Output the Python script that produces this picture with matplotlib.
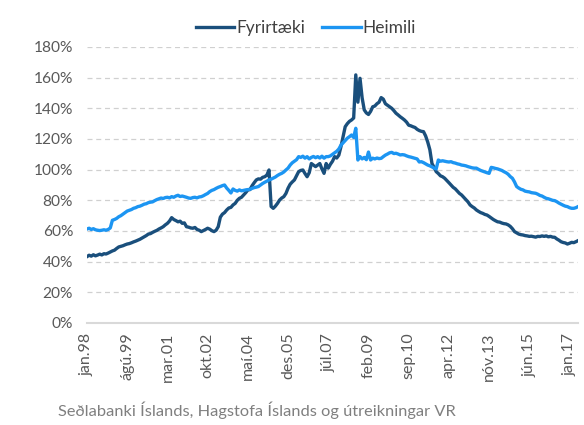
import numpy as np
import matplotlib
matplotlib.use("Agg")
import matplotlib.pyplot as plt

plt.rcParams['font.family'] = ['Lato', 'DejaVu Sans']

# monthly values, jan.98 - maí.17 (% )
fyrirtaeki = [
    43.3, 44.2, 43.6, 44.5, 43.8, 44.3, 44.9, 44.4, 45.2, 45.0, 45.6, 46.3,   # 1998
    47.0, 47.5, 48.6, 49.6, 50.0, 50.4, 51.0, 51.5, 51.8, 52.3, 52.9, 53.4,   # 1999
    54.0, 54.6, 55.4, 56.2, 57.0, 58.0, 58.3, 59.1, 59.8, 60.4, 61.3, 62.0,   # 2000
    62.8, 64.0, 65.0, 66.5, 68.7, 67.5, 66.8, 66.0, 66.4, 65.0, 65.3, 62.8,   # 2001
    62.5, 62.0, 61.8, 62.3, 61.0, 60.5, 59.6, 60.3, 61.0, 61.8, 61.2, 60.2,   # 2002
    59.6, 60.5, 62.8, 69.0, 71.0, 72.0, 73.7, 75.0, 75.4, 77.0, 78.0, 80.0,   # 2003
    81.3, 82.0, 83.5, 85.0, 86.8, 87.0, 89.5, 91.5, 93.3, 94.0, 93.8, 95.0,   # 2004
    95.4, 96.5, 99.8, 76.0, 74.8, 76.2, 78.0, 80.2, 81.5, 82.4, 84.5, 87.9,   # 2005
    90.5, 92.0, 93.3, 96.0, 98.7, 99.5, 99.8, 97.5, 95.4, 98.0, 104.0, 103.0, # 2006
    102.0, 103.0, 104.0, 100.5, 97.6, 104.0, 101.0, 103.5, 105.5, 108.5, 107.6, 109.5,  # 2007
    115.0, 121.5, 128.0, 130.0, 131.5, 132.4, 133.7, 161.8, 144.0, 159.6, 146.8, 139.0,  # 2008
    137.0, 136.0, 138.0, 141.0, 141.5, 143.0, 144.0, 147.0, 146.0, 143.0, 142.0, 141.0,  # 2009
    140.0, 138.5, 136.8, 135.7, 134.5, 133.5, 132.4, 131.0, 129.0, 128.6, 128.0, 127.5,  # 2010
    126.3, 125.5, 125.0, 124.8, 122.0, 118.0, 113.0, 104.0, 101.5, 98.7, 97.5, 96.0,     # 2011
    95.4, 94.4, 93.0, 91.5, 90.0, 88.5, 87.5, 86.0, 84.5, 83.5, 82.0, 80.5,   # 2012
    79.0, 77.0, 75.9, 75.0, 73.7, 72.8, 72.0, 71.5, 70.8, 70.4, 69.5, 68.5,   # 2013
    67.5, 66.7, 66.0, 65.8, 65.2, 64.8, 64.6, 64.0, 63.0, 61.5, 59.6, 58.8,   # 2014
    58.0, 57.6, 57.4, 57.0, 56.8, 56.5, 56.6, 56.3, 56.0, 56.5, 56.4, 56.8,   # 2015
    56.5, 56.8, 56.2, 56.5, 56.0, 55.9, 54.8, 54.0, 53.0, 52.5, 52.2, 51.5,   # 2016
    52.0, 52.6, 52.4, 53.0, 53.7,                                             # 2017
]

heimili = [
    61.3, 61.8, 61.0, 61.5, 60.8, 60.5, 60.3, 60.5, 60.8, 60.5, 61.0, 62.0,   # 1998
    67.0, 67.5, 68.2, 69.3, 70.0, 71.0, 72.0, 73.0, 73.5, 74.0, 74.8, 75.2,   # 1999
    75.9, 76.2, 76.8, 77.5, 77.8, 78.5, 78.8, 79.0, 79.8, 80.5, 81.0, 81.5,   # 2000
    81.2, 81.8, 82.0, 81.6, 82.4, 82.0, 82.8, 83.3, 82.5, 82.8, 82.4, 82.0,   # 2001
    81.5, 81.3, 81.8, 82.0, 81.6, 82.2, 82.4, 83.0, 83.8, 84.5, 85.7, 86.5,   # 2002
    87.0, 87.8, 88.5, 89.0, 89.6, 90.0, 88.0, 86.5, 84.8, 87.4, 86.5, 86.0,   # 2003
    86.8, 86.2, 86.5, 86.8, 87.0, 87.2, 87.8, 88.3, 88.6, 89.0, 90.0, 91.0,   # 2004
    91.8, 92.5, 93.3, 93.8, 94.5, 95.2, 96.2, 97.0, 97.6, 98.5, 99.8, 101.0,  # 2005
    103.0, 104.5, 105.5, 106.5, 108.5, 108.0, 108.8, 107.5, 108.5, 107.0, 108.0, 108.6,  # 2006
    107.8, 108.5, 107.6, 108.8, 107.5, 108.5, 108.5, 109.0, 110.0, 111.0, 112.0, 113.5,  # 2007
    116.0, 117.5, 119.0, 120.5, 121.5, 122.6, 121.0, 127.0, 106.3, 108.5, 107.0, 108.0,  # 2008
    106.5, 111.5, 106.3, 107.5, 107.0, 107.6, 107.2, 107.4, 108.5, 109.5, 110.2, 111.0,  # 2009
    111.3, 110.5, 110.7, 110.2, 109.6, 109.8, 109.6, 109.0, 108.5, 108.2, 107.8, 107.4,  # 2010
    107.0, 105.0, 105.2, 104.6, 103.8, 103.0, 102.5, 101.8, 101.0, 100.5, 106.3, 105.5,  # 2011
    105.8, 105.5, 105.2, 105.0, 105.2, 104.6, 104.3, 103.8, 103.5, 103.0, 102.8, 102.5,  # 2012
    102.0, 101.6, 101.2, 101.0, 101.0, 100.2, 99.5, 99.0, 98.5, 98.0, 97.6, 101.5,       # 2013
    101.2, 100.8, 100.5, 100.0, 99.5, 98.7, 98.0, 97.0, 95.5, 94.4, 92.0, 89.0,  # 2014
    88.0, 87.2, 86.8, 86.0, 85.7, 85.5, 85.0, 84.8, 84.6, 84.0, 83.2, 82.8,   # 2015
    82.0, 81.3, 81.0, 80.5, 80.0, 79.8, 79.1, 78.2, 77.5, 76.8, 76.2, 75.9,   # 2016
    75.2, 74.8, 74.8, 75.2, 75.9,                                             # 2017
]

tick_labels = ["jan.98", "ágú.99", "mar.01", "okt.02", "maí.04", "des.05", "júl.07",
               "feb.09", "sep.10", "apr.12", "nóv.13", "jún.15", "jan.17"]
source = "Seðlabanki Íslands, Hagstofa Íslands og útreikningar VR"

DARK = "#1a4f7c"
LIGHT = "#1c95f2"
GREY = "#595959"

months = np.arange(len(fyrirtaeki))

fig = plt.figure(figsize=(5.84, 4.25), dpi=100)
ax = fig.add_axes([87 / 584, 102 / 425, 491 / 584, 276 / 425])

ax.plot(months, fyrirtaeki, color=DARK, lw=2.4, label="Fyrirtæki", solid_joinstyle="round")
ax.plot(months, heimili, color=LIGHT, lw=2.4, label="Heimili", solid_joinstyle="round")

ax.set_ylim(0, 180)
ax.set_xlim(0, len(months) - 1)
yt = np.arange(0, 181, 20)
ax.set_yticks(yt)
ax.set_yticklabels([f"{v}%" for v in yt])
for v in yt[1:]:
    ax.axhline(v, color="#d0d0d0", lw=0.9, ls=(0, (4, 3)), zorder=0)

ax.set_xticks(np.arange(0, len(months), 19))
ax.set_xticklabels(tick_labels, rotation=90)

for s in ["top", "right", "left"]:
    ax.spines[s].set_visible(False)
ax.spines["bottom"].set_color("#d9d9d9")
ax.spines["bottom"].set_linewidth(1.5)
ax.tick_params(axis="both", length=0, colors=GREY)
ax.tick_params(axis="x", pad=7, labelsize=11.5)
ax.tick_params(axis="y", pad=10, labelsize=11.2)

fig.legend(loc="center", bbox_to_anchor=(306 / 584, 1 - 28 / 425), ncol=2, frameon=False,
           fontsize=12.5, handlelength=2.2, handletextpad=0.1, columnspacing=1.0,
           labelcolor="#404040")

fig.text(58 / 584, 1 - 410 / 425, source, color="#7f7f7f", fontsize=11.8, va="center", ha="left")

plt.savefig("out.png", dpi=100)
